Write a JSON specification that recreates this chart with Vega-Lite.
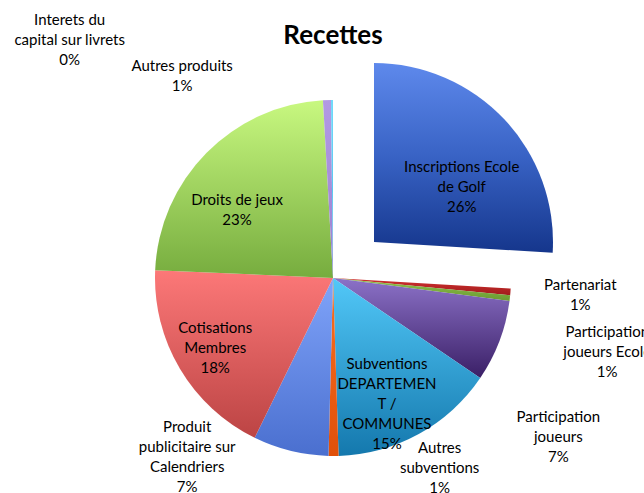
{
  "$schema": "https://vega.github.io/schema/vega-lite/v6.json",
  "width": 622,
  "height": 430,
  "autosize": {"type": "none"},
  "padding": {"left": 22, "top": 63, "right": 0, "bottom": 0},
  "background": "white",
  "title": {"text": "Recettes", "font": "Lato", "fontSize": 26, "fontWeight": "bold", "color": "#000000", "anchor": "middle", "offset": -6, "dy": 30},
  "config": {"view": {"stroke": null}, "text": {"font": "Lato", "fontSize": 15, "color": "#000000", "lineBreak": "\n", "lineHeight": 20, "align": "center", "baseline": "middle"}},
  "data": {"values": [
    {"category": "Inscriptions Ecole de Golf", "label": "Inscriptions Ecole\nde Golf", "share": 0.2595},
    {"category": "Partenariat", "label": "Partenariat", "share": 0.006},
    {"category": "Participation joueurs Ecole", "label": "Participation\njoueurs Ecole", "share": 0.0052},
    {"category": "Participation joueurs", "label": "Participation\njoueurs", "share": 0.0743},
    {"category": "Subventions DEPARTEMENT / COMMUNES", "label": "Subventions\nDEPARTEMEN\nT /\nCOMMUNES", "share": 0.15},
    {"category": "Autres subventions", "label": "Autres\nsubventions", "share": 0.009},
    {"category": "Produit publicitaire sur Calendriers", "label": "Produit\npublicitaire sur\nCalendriers", "share": 0.0685},
    {"category": "Cotisations Membres", "label": "Cotisations\nMembres", "share": 0.1845},
    {"category": "Droits de jeux", "label": "Droits de jeux", "share": 0.234},
    {"category": "Autres produits", "label": "Autres produits", "share": 0.0072},
    {"category": "Interets du capital sur livrets", "label": "Interets du\ncapital sur livrets", "share": 0.0018}
  ]},
  "transform": [
    {"window": [{"op": "row_number", "as": "idx"}]},
    {"stack": "share", "groupby": [], "sort": [{"field": "idx", "order": "ascending"}], "as": ["s0", "s1"]},
    {"calculate": "(datum.s0 + datum.s1) / 2", "as": "mid"},
    {"calculate": "datum.label + '\\n' + format(datum.share, '.0%')", "as": "txt"}
  ],
  "layer": [
    {
      "transform": [{"filter": "datum.category !== 'Inscriptions Ecole de Golf'"}],
      "mark": {"type": "arc", "radius": 178, "x": {"expr": "width/2"}, "y": {"expr": "height/2"}, "stroke": null},
      "encoding": {
        "theta": {"field": "s0", "type": "quantitative", "stack": null, "scale": {"domain": [0, 1]}},
        "theta2": {"field": "s1"},
        "fill": {
          "condition": [
            {"test": "datum.category === 'Partenariat'", "value": {"gradient": "linear", "x1": 0, "y1": 0, "x2": 0, "y2": 1, "stops": [{"offset": 0, "color": "#d33030"}, {"offset": 1, "color": "#a01c1c"}]}},
            {"test": "datum.category === 'Participation joueurs Ecole'", "value": {"gradient": "linear", "x1": 0, "y1": 0, "x2": 0, "y2": 1, "stops": [{"offset": 0, "color": "#90c450"}, {"offset": 1, "color": "#6a9a30"}]}},
            {"test": "datum.category === 'Participation joueurs'", "value": {"gradient": "linear", "x1": 0, "y1": 0, "x2": 0, "y2": 1, "stops": [{"offset": 0, "color": "#8c72c8"}, {"offset": 1, "color": "#3a1f66"}]}},
            {"test": "datum.category === 'Subventions DEPARTEMENT / COMMUNES'", "value": {"gradient": "linear", "x1": 0, "y1": 0, "x2": 0, "y2": 1, "stops": [{"offset": 0, "color": "#52c8f8"}, {"offset": 1, "color": "#1478ad"}]}},
            {"test": "datum.category === 'Autres subventions'", "value": {"gradient": "linear", "x1": 0, "y1": 0, "x2": 0, "y2": 1, "stops": [{"offset": 0, "color": "#f87020"}, {"offset": 1, "color": "#e0500a"}]}},
            {"test": "datum.category === 'Produit publicitaire sur Calendriers'", "value": {"gradient": "linear", "x1": 0, "y1": 0, "x2": 0, "y2": 1, "stops": [{"offset": 0, "color": "#80a4fa"}, {"offset": 1, "color": "#4a6fcf"}]}},
            {"test": "datum.category === 'Cotisations Membres'", "value": {"gradient": "linear", "x1": 0, "y1": 0, "x2": 0, "y2": 1, "stops": [{"offset": 0, "color": "#fc7878"}, {"offset": 1, "color": "#bc4444"}]}},
            {"test": "datum.category === 'Droits de jeux'", "value": {"gradient": "linear", "x1": 0, "y1": 0, "x2": 0, "y2": 1, "stops": [{"offset": 0, "color": "#c8f880"}, {"offset": 1, "color": "#76ac3e"}]}},
            {"test": "datum.category === 'Autres produits'", "value": {"gradient": "linear", "x1": 0, "y1": 0, "x2": 0, "y2": 1, "stops": [{"offset": 0, "color": "#b29ae4"}, {"offset": 1, "color": "#9a80d0"}]}}
          ],
          "value": {"gradient": "linear", "x1": 0, "y1": 0, "x2": 0, "y2": 1, "stops": [{"offset": 0, "color": "#70dafa"}, {"offset": 1, "color": "#40b8e8"}]}
        }
      }
    },
    {
      "transform": [{"filter": "datum.category === 'Inscriptions Ecole de Golf'"}],
      "mark": {"type": "arc", "radius": 179, "x": {"expr": "width/2 + 41"}, "y": {"expr": "height/2 - 36"}, "stroke": null,
        "fill": {"gradient": "linear", "x1": 0, "y1": 0, "x2": 0, "y2": 1, "stops": [{"offset": 0, "color": "#5e89ec"}, {"offset": 0.5, "color": "#3862c4"}, {"offset": 1, "color": "#15368c"}]}},
      "encoding": {
        "theta": {"field": "s0", "type": "quantitative", "stack": null},
        "theta2": {"field": "s1"}
      }
    },
    {
      "transform": [{"filter": "datum.category === 'Inscriptions Ecole de Golf'"}],
      "mark": {"type": "text", "radius": 104, "x": {"expr": "width/2 + 41"}, "y": {"expr": "height/2 - 36"}, "dx": 12, "dy": -4},
      "encoding": {"theta": {"field": "mid", "type": "quantitative", "stack": null}, "text": {"field": "txt"}}
    },
    {
      "transform": [{"filter": "datum.category === 'Droits de jeux'"}],
      "mark": {"type": "text", "radius": 118, "x": {"expr": "width/2"}, "y": {"expr": "height/2"}, "dx": -12, "dy": 5},
      "encoding": {"theta": {"field": "mid", "type": "quantitative", "stack": null}, "text": {"field": "txt"}}
    },
    {
      "transform": [{"filter": "datum.category === 'Cotisations Membres'"}],
      "mark": {"type": "text", "radius": 137, "x": {"expr": "width/2"}, "y": {"expr": "height/2"}, "dy": -20},
      "encoding": {"theta": {"field": "mid", "type": "quantitative", "stack": null}, "text": {"field": "txt"}}
    },
    {
      "transform": [{"filter": "datum.category === 'Subventions DEPARTEMENT / COMMUNES'"}],
      "mark": {"type": "text", "radius": 137, "x": {"expr": "width/2"}, "y": {"expr": "height/2"}, "dx": -12, "dy": -34},
      "encoding": {"theta": {"field": "mid", "type": "quantitative", "stack": null}, "text": {"field": "txt"}}
    },
    {
      "transform": [{"filter": "datum.category === 'Partenariat'"}],
      "mark": {"type": "text", "radius": 248, "x": {"expr": "width/2"}, "y": {"expr": "height/2"}, "dy": -12},
      "encoding": {"theta": {"field": "mid", "type": "quantitative", "stack": null}, "text": {"field": "txt"}}
    },
    {
      "transform": [{"filter": "datum.category === 'Participation joueurs Ecole'"}],
      "mark": {"type": "text", "radius": 276, "x": {"expr": "width/2"}, "y": {"expr": "height/2"}, "dy": 23},
      "encoding": {"theta": {"field": "mid", "type": "quantitative", "stack": null}, "text": {"field": "txt"}}
    },
    {
      "transform": [{"filter": "datum.category === 'Participation joueurs'"}],
      "mark": {"type": "text", "radius": 240, "x": {"expr": "width/2"}, "y": {"expr": "height/2"}, "dx": 1, "dy": 54},
      "encoding": {"theta": {"field": "mid", "type": "quantitative", "stack": null}, "text": {"field": "txt"}}
    },
    {
      "transform": [{"filter": "datum.category === 'Autres subventions'"}],
      "mark": {"type": "text", "radius": 190, "x": {"expr": "width/2"}, "y": {"expr": "height/2"}, "dx": 106, "dy": -20},
      "encoding": {"theta": {"field": "mid", "type": "quantitative", "stack": null}, "text": {"field": "txt"}}
    },
    {
      "transform": [{"filter": "datum.category === 'Produit publicitaire sur Calendriers'"}],
      "mark": {"type": "text", "radius": 184, "x": {"expr": "width/2"}, "y": {"expr": "height/2"}, "dx": -102, "dy": -30},
      "encoding": {"theta": {"field": "mid", "type": "quantitative", "stack": null}, "text": {"field": "txt"}}
    },
    {
      "transform": [{"filter": "datum.category === 'Autres produits'"}],
      "mark": {"type": "text", "radius": 202, "x": {"expr": "width/2"}, "y": {"expr": "height/2"}, "dx": -144, "dy": -10},
      "encoding": {"theta": {"field": "mid", "type": "quantitative", "stack": null}, "text": {"field": "txt"}}
    },
    {
      "transform": [{"filter": "datum.category === 'Interets du capital sur livrets'"}],
      "mark": {"type": "text", "radius": 238, "x": {"expr": "width/2"}, "y": {"expr": "height/2"}, "dx": -262, "dy": -20},
      "encoding": {"theta": {"field": "mid", "type": "quantitative", "stack": null}, "text": {"field": "txt"}}
    }
  ]
}
